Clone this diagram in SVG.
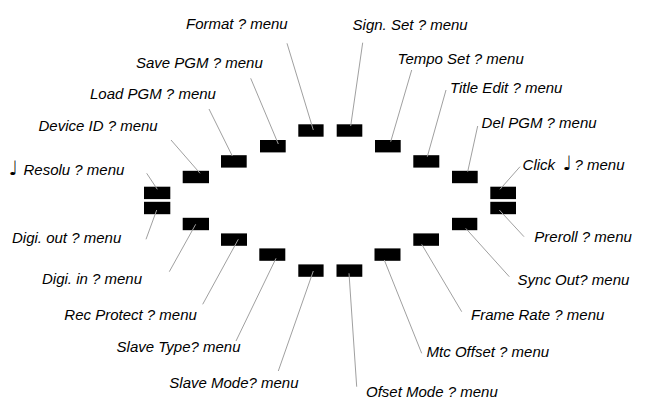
<svg xmlns="http://www.w3.org/2000/svg" width="647" height="405" viewBox="0 0 647 405">
<style>
.b{fill:#000}
.t{font-family:"Liberation Sans",Arial,sans-serif;font-size:15px;font-style:italic;fill:#000}
.n{font-family:"DejaVu Sans",sans-serif;font-style:normal;font-size:20px;fill:#000}
.c line{stroke:#a0a0a0;stroke-width:1}
</style>
<rect width="647" height="405" fill="#fff"/>
<g id="n-format"><rect class="b" x="298.3" y="124.3" width="25.3" height="12.4"/><text class="t" x="186" y="29.3">Format ? menu</text></g>
<g id="n-save"><rect class="b" x="260" y="140" width="25.7" height="12.4"/><text class="t" x="136" y="68.3">Save PGM ? menu</text></g>
<g id="n-load"><rect class="b" x="221" y="155.2" width="25.7" height="12.4"/><text class="t" x="90" y="99.3">Load PGM ? menu</text></g>
<g id="n-device"><rect class="b" x="182.7" y="170.8" width="26.3" height="12.4"/><text class="t" x="38.5" y="131">Device ID ? menu</text></g>
<g id="n-resolu"><rect class="b" x="144" y="186.7" width="26.3" height="12.4"/><text class="t" x="8.5" y="175"><tspan class="n">♩︎</tspan><tspan x="23.5">Resolu ? menu</tspan></text></g>
<g id="n-digiout"><rect class="b" x="144" y="201.8" width="26.3" height="12.4"/><text class="t" x="12" y="243.3">Digi. out ? menu</text></g>
<g id="n-digiin"><rect class="b" x="182.7" y="217.8" width="26.3" height="12.4"/><text class="t" x="42" y="284.3">Digi. in ? menu</text></g>
<g id="n-recprotect"><rect class="b" x="221" y="233.4" width="26" height="12.4"/><text class="t" x="64.3" y="320">Rec Protect ? menu</text></g>
<g id="n-slavetype"><rect class="b" x="259.3" y="248.4" width="26" height="12.4"/><text class="t" x="116.6" y="351.7">Slave Type? menu</text></g>
<g id="n-slavemode"><rect class="b" x="298.3" y="264.4" width="25.3" height="12.4"/><text class="t" x="169.3" y="388.3">Slave Mode? menu</text></g>
<g id="n-sign"><rect class="b" x="336.7" y="124.3" width="25.6" height="12.4"/><text class="t" x="352.6" y="30">Sign. Set ? menu</text></g>
<g id="n-tempo"><rect class="b" x="375" y="140" width="25.7" height="12.4"/><text class="t" x="397.6" y="64">Tempo Set ? menu</text></g>
<g id="n-title"><rect class="b" x="413.3" y="155.2" width="26" height="12.4"/><text class="t" x="450" y="92.7">Title Edit ? menu</text></g>
<g id="n-delpgm"><rect class="b" x="452" y="170.8" width="25.7" height="12.4"/><text class="t" x="481.6" y="128.3">Del PGM ? menu</text></g>
<g id="n-click"><rect class="b" x="490.3" y="186.7" width="25.7" height="12.4"/><text class="t" x="522.6" y="170">Click <tspan class="n" x="562.5">♩︎</tspan><tspan x="574.5">? menu</tspan></text></g>
<g id="n-preroll"><rect class="b" x="490.3" y="201.8" width="25.7" height="12.4"/><text class="t" x="534.3" y="241.7">Preroll ? menu</text></g>
<g id="n-syncout"><rect class="b" x="452" y="217.8" width="25.3" height="12.4"/><text class="t" x="517.6" y="285">Sync Out? menu</text></g>
<g id="n-framerate"><rect class="b" x="413.3" y="233.4" width="25.7" height="12.4"/><text class="t" x="471" y="320">Frame Rate ? menu</text></g>
<g id="n-mtc"><rect class="b" x="374.5" y="248.4" width="26" height="12.4"/><text class="t" x="426.6" y="356.7">Mtc Offset ? menu</text></g>
<g id="n-ofset"><rect class="b" x="336.5" y="264.4" width="25.8" height="12.4"/><text class="t" x="366" y="396.7">Ofset Mode ? menu</text></g>
<g id="connectors" class="c">
<line x1="287" y1="43.3" x2="313.3" y2="130"/>
<line x1="250.7" y1="78.3" x2="278.3" y2="144"/>
<line x1="209" y1="109" x2="232.3" y2="156"/>
<line x1="171" y1="140" x2="200" y2="173.3"/>
<line x1="146.7" y1="173.3" x2="157.3" y2="189.3"/>
<line x1="156.7" y1="210" x2="146" y2="239.3"/>
<line x1="195.7" y1="224.3" x2="169.3" y2="271.7"/>
<line x1="238.3" y1="239.3" x2="202.7" y2="304.3"/>
<line x1="276" y1="258.3" x2="236" y2="341"/>
<line x1="313.3" y1="271" x2="278.3" y2="371"/>
<line x1="362.7" y1="42.7" x2="350.7" y2="126"/>
<line x1="411.7" y1="70" x2="390.7" y2="141.7"/>
<line x1="446" y1="90" x2="427.3" y2="156.7"/>
<line x1="477.7" y1="126" x2="467.7" y2="171.7"/>
<line x1="520" y1="166.7" x2="500" y2="189.3"/>
<line x1="499.3" y1="210" x2="524" y2="236.7"/>
<line x1="465.7" y1="228.3" x2="509.3" y2="276.7"/>
<line x1="421.7" y1="244.3" x2="461.7" y2="311.7"/>
<line x1="384.3" y1="260" x2="421.7" y2="353.3"/>
<line x1="349" y1="273.3" x2="356.7" y2="386.7"/>
</g>
</svg>
